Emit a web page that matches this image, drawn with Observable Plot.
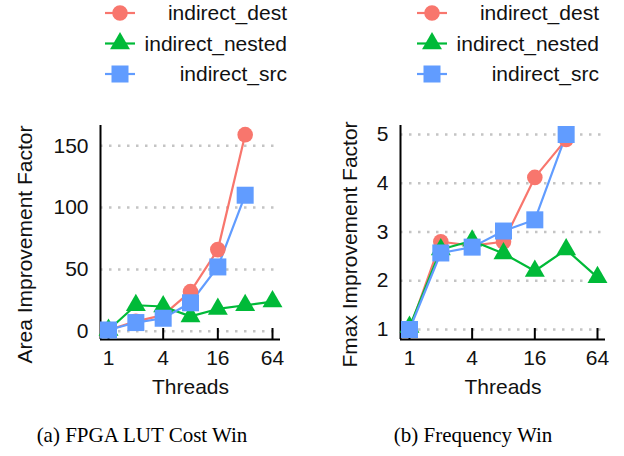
<!DOCTYPE html>
<html>
<head>
<meta charset="utf-8">
<script src="https://cdn.jsdelivr.net/npm/d3@7"></script>
<script src="https://cdn.jsdelivr.net/npm/@observablehq/plot@0.6"></script>
<style>
  body { margin: 0; background: #fff; }
  #root { position: relative; width: 624px; height: 456px; overflow: hidden; background: #fff;
          font-family: "Liberation Sans", Arial, Helvetica, sans-serif; }
  .panel { position: absolute; top: 0; width: 312px; height: 456px; }
  .legend { position: absolute; left: 0; top: 0; }
  .plot { position: absolute; left: 0; top: 100px; }
  .caption { position: absolute; top: 423px; width: 312px; text-align: center;
             font-family: "Liberation Serif", "Times New Roman", Times, serif; font-size: 21px; color: #000; }
</style>
</head>
<body>
<div id="root"></div>
<script>
// ---- data ----
const threads = [1, 2, 4, 8, 16, 32, 64];
const seriesNames = ["indirect_dest", "indirect_nested", "indirect_src"];
const seriesColors = ["#F8766D", "#00BA38", "#619CFF"];
const seriesSymbols = ["circle", "triangle", "square"];

const areaDest   = [1, 8, 13, 32, 66, 159, null];
const areaNested = [1, 21, 20, 12, 18, 21, 24];
const areaSrc    = [1, 7, 10.5, 23, 52, 110, null];

const fmaxDest   = [1, 2.8, 2.72, 2.8, 4.12, 4.9, null];
const fmaxNested = [1.05, 2.64, 2.82, 2.56, 2.2, 2.64, 2.07];
const fmaxSrc    = [1, 2.57, 2.69, 3.02, 3.25, 5.0, null];

const xTicks = [1, 4, 16, 64];
const areaTicks = [0, 50, 100, 150];
const fmaxTicks = [1, 2, 3, 4, 5];

const captions = ["(a) FPGA LUT Cost Win", "(b) Frequency Win"];
const yTitles = ["Area Improvement Factor", "Fmax Improvement Factor"];
const xTitle = "Threads";

function toRows(arrays) {
  const rows = [];
  arrays.forEach((vals, si) => {
    vals.forEach((v, i) => {
      if (v != null) rows.push({series: seriesNames[si], threads: threads[i], value: v});
    });
  });
  return rows;
}

const symbolR = {circle: 7.8, triangle: 7.4, square: 9.6};

function makeLegend() {
  const svg = d3.create("svg").attr("width", 312).attr("height", 95)
    .style("font-family", '"Liberation Sans", Arial, Helvetica, sans-serif');
  seriesNames.forEach((s, i) => {
    const y = 13 + i * 30.5;
    const g = svg.append("g");
    g.append("line").attr("x1", 105).attr("x2", 135).attr("y1", y).attr("y2", y)
      .attr("stroke", seriesColors[i]).attr("stroke-width", 2.2);
    const sym = {circle: d3.symbolCircle, triangle: d3.symbolTriangle, square: d3.symbolSquare}[seriesSymbols[i]];
    const r = symbolR[seriesSymbols[i]];
    g.append("path").attr("d", d3.symbol(sym, Math.PI * r * r)())
      .attr("transform", `translate(120,${y})`).attr("fill", seriesColors[i]);
    g.append("text").attr("x", 287).attr("y", y).attr("dy", "0.35em")
      .attr("text-anchor", "end").attr("font-size", 21).attr("fill", "#111").text(s);
  });
  return svg.node();
}

function makePlot(cfg) {
  const rows = toRows(cfg.arrays);
  const H = 300, mt = 25, mb = 61;
  const frameH = H - mt - mb;
  const marks = [
    Plot.gridY(cfg.yTicks, {stroke: "#c4c4c4", strokeOpacity: 1, strokeWidth: 2.5, strokeDasharray: "2.5,6.5"}),
    Plot.ruleX(xTicks, {insetTop: frameH - 11, stroke: "#000", strokeWidth: 2}),
    Plot.ruleY([cfg.yDomain[0]], {stroke: "#000", strokeWidth: 2}),
    Plot.ruleX([cfg.xDomain[0]], {stroke: "#000", strokeWidth: 2}),
    Plot.axisX(xTicks, {tickSize: 0, tickPadding: 11, fontSize: 21, tickFormat: d => String(d), label: null, fill: "#111"}),
    Plot.axisY(cfg.yTicks, {tickSize: 0, tickPadding: 12, fontSize: 21, label: null, fill: "#111"}),
    Plot.line(rows, {x: "threads", y: "value", z: "series", stroke: "series", strokeWidth: 2.2}),
  ];
  seriesNames.forEach((s, i) => {
    marks.push(Plot.dot(rows.filter(d => d.series === s), {
      x: "threads", y: "value", fill: "series", symbol: seriesSymbols[i], r: symbolR[seriesSymbols[i]], stroke: "none"
    }));
  });
  marks.push(Plot.text([cfg.yTitle], {frameAnchor: "left", text: d => d, rotate: -90, dx: cfg.yTitleDx, dy: 12,
    textAnchor: "middle", lineAnchor: "middle", fontSize: 21, fill: "#111"}));
  marks.push(Plot.text([xTitle], {frameAnchor: "bottom", text: d => d, dy: 48,
    textAnchor: "middle", lineAnchor: "middle", fontSize: 21, fill: "#111"}));
  return Plot.plot({
    width: 312, height: H,
    marginTop: mt, marginBottom: mb, marginLeft: cfg.ml, marginRight: cfg.mr,
    style: {fontFamily: '"Liberation Sans", Arial, Helvetica, sans-serif', fontSize: "21px", background: "transparent", overflow: "visible", color: "#111"},
    x: {type: "log", base: 2, domain: cfg.xDomain},
    y: {domain: cfg.yDomain},
    color: {domain: seriesNames, range: seriesColors},
    marks
  });
}

const panels = [
  {arrays: [areaDest, areaNested, areaSrc], yTicks: areaTicks, yDomain: [-6.7, 166.4], xDomain: [0.816, 78.4],
   ml: 100, mr: 32, yTitle: yTitles[0], yTitleDx: -75},
  {arrays: [fmaxDest, fmaxNested, fmaxSrc], yTicks: fmaxTicks, yDomain: [0.795, 5.185], xDomain: [0.82, 76.4],
   ml: 88, mr: 19, yTitle: yTitles[1], yTitleDx: -50}
];

const root = document.getElementById("root");
panels.forEach((cfg, i) => {
  const p = document.createElement("div");
  p.className = "panel";
  p.style.left = (i * 312) + "px";
  const lg = document.createElement("div"); lg.className = "legend"; lg.appendChild(makeLegend());
  const pl = document.createElement("div"); pl.className = "plot"; pl.appendChild(makePlot(cfg));
  const cap = document.createElement("div"); cap.className = "caption"; cap.textContent = captions[i];
  cap.style.left = (i === 0 ? -14 : 5) + "px";
  p.appendChild(lg); p.appendChild(pl); p.appendChild(cap);
  root.appendChild(p);
});
</script>
</body>
</html>
